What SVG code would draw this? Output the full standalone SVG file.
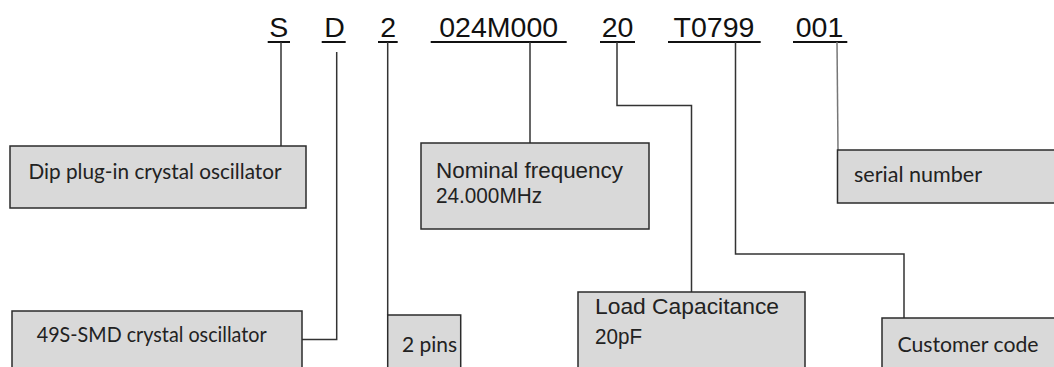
<svg xmlns="http://www.w3.org/2000/svg" width="1054" height="367" viewBox="0 0 1054 367">
<style>
.code{font-family:"Liberation Sans",Arial,sans-serif;font-size:28.5px;fill:#111;text-anchor:middle}
.ul{stroke:#111;stroke-width:2}
.box{fill:#d9d9d9;stroke:#2b2b2b;stroke-width:1.5}
.cal{font-family:Lato,"Open Sans",sans-serif;font-size:21px;fill:#222}
.ari{font-family:"Liberation Sans",Arial,sans-serif;font-size:21.5px;fill:#222}
.con{fill:none;stroke:#333;stroke-width:1.5}
</style>
<rect width="1054" height="367" fill="#fff"/>
<g id="code">
<text class="code" x="278.7" y="37">S</text>
<text class="code" x="334.5" y="37">D</text>
<text class="code" x="388.3" y="37">2</text>
<text class="code" x="498.7" y="37">024M000</text>
<text class="code" x="617.5" y="37">20</text>
<text class="code" x="714" y="37">T0799</text>
<text class="code" x="819.5" y="37">001</text>
<line class="ul" x1="267.7" y1="42" x2="290" y2="42"/>
<line class="ul" x1="321.7" y1="42" x2="345.7" y2="42"/>
<line class="ul" x1="378" y1="42" x2="397.7" y2="42"/>
<line class="ul" x1="430.7" y1="42" x2="566.7" y2="42"/>
<line class="ul" x1="600" y1="42" x2="635" y2="42"/>
<line class="ul" x1="668" y1="42" x2="760.7" y2="42"/>
<line class="ul" x1="793" y1="42" x2="847.3" y2="42"/>
</g>
<g id="connectors">
<path class="con" d="M281,42 V146"/>
<path class="con" d="M336.7,52 V339.5 H302"/>
<path class="con" d="M387.7,42 V315"/>
<path class="con" d="M530,42 V143"/>
<path class="con" d="M617,42 V105.5 H691.5 V292"/>
<path class="con" d="M735.5,42 V254 H904 V318"/>
<path d="M837,42 L838,150" fill="none" stroke="#777" stroke-width="1.5"/>
</g>
<g id="dip">
<rect class="box" x="10" y="146" width="296" height="62"/>
<text class="cal" x="28.5" y="179" textLength="253" lengthAdjust="spacingAndGlyphs">Dip plug-in crystal oscillator</text>
</g>
<g id="nominal">
<rect class="box" x="421" y="143" width="228" height="86"/>
<text class="ari" x="436" y="178" textLength="187" lengthAdjust="spacingAndGlyphs">Nominal frequency</text>
<text class="ari" x="436" y="203" textLength="106" lengthAdjust="spacingAndGlyphs">24.000MHz</text>
</g>
<g id="serial">
<rect class="box" x="837.5" y="150" width="230" height="53"/>
<text class="cal" x="854" y="182" textLength="128" lengthAdjust="spacingAndGlyphs">serial number</text>
</g>
<g id="smd">
<rect class="box" x="12" y="311" width="290" height="70"/>
<text class="cal" x="36.7" y="342" textLength="230" lengthAdjust="spacingAndGlyphs">49S-SMD crystal oscillator</text>
</g>
<g id="pins">
<rect class="box" x="387.7" y="315" width="73" height="66"/>
<text class="cal" x="402" y="352">2 pins</text>
</g>
<g id="load">
<rect class="box" x="578" y="292" width="227" height="90"/>
<text class="ari" x="595" y="314" textLength="184" lengthAdjust="spacingAndGlyphs">Load Capacitance</text>
<text class="ari" x="595" y="344" textLength="47" lengthAdjust="spacingAndGlyphs">20pF</text>
</g>
<g id="customer">
<rect class="box" x="882" y="318" width="190" height="64"/>
<text class="cal" x="897.5" y="352" textLength="141" lengthAdjust="spacingAndGlyphs">Customer code</text>
</g>
</svg>
